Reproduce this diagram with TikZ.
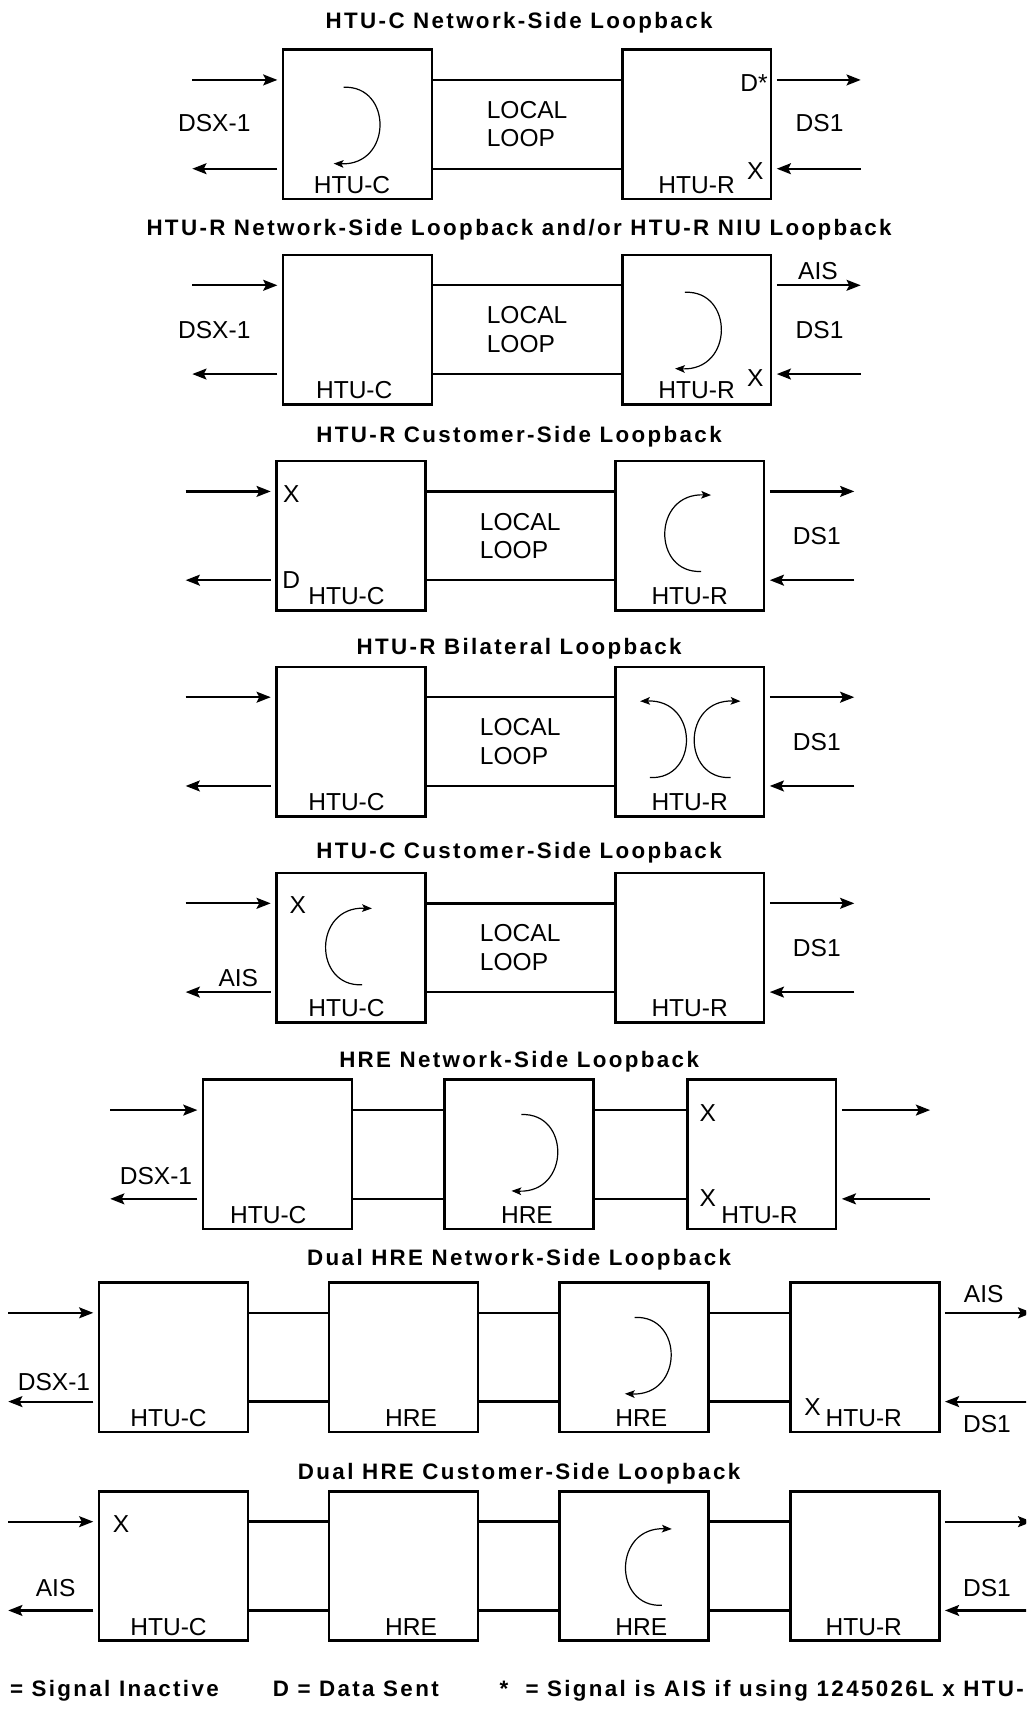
\documentclass[tikz,border=0pt]{standalone}
\usepackage{fontspec}
\setmainfont{Liberation Sans}
\newfontfamily\headfont{Liberation Sans}[LetterSpace=10.5]
\usetikzlibrary{arrows.meta,calc}

\begin{document}
\begin{tikzpicture}[x=1pt,y=1pt]
    % --- MANUAL CONFIGURATION ---
    % 1. Offset of the line pairs from the box top and bottom
    \def\Gap{29pt}
    % 2. Space left between an arrow and a box
    \def\Clear{4pt}

    % --- STYLES ---
    \tikzset{
        unitBox/.style={draw, line width=2.4pt, minimum width=136.5pt, minimum height=137pt, inner sep=0pt},
        wireLine/.style={line width=2.2pt},
        sigArrow/.style={-{Stealth[length=13pt,width=10pt,inset=2.5pt]}, line width=2pt},
        loopLine/.style={-{Stealth[length=9pt,width=7pt,inset=2pt]}, line width=1.1pt},
        boxText/.style={inner sep=0pt, font=\fontsize{22.5}{26}\selectfont},
        headText/.style={inner sep=0pt, anchor=base, font=\headfont\bfseries\fontsize{20.5}{24}\selectfont},
        loopArc/.pic={\draw[loopLine] (10,-34) .. controls (-35,-36) and (-35,38) .. (19,36);}
    }

    % line pair between two neighbouring boxes
    \def\wires#1#2{%
        \draw[wireLine] ([yshift=-\Gap]#1.north east) -- ([yshift=-\Gap]#2.north west);
        \draw[wireLine] ([yshift=\Gap]#1.south east) -- ([yshift=\Gap]#2.south west);}
    % arrows on the left of a box: in at the top, out at the bottom
    \def\leftArrows#1#2{%
        \coordinate (#1in) at ($(#1.north west)+(-#2,-\Gap)$);
        \coordinate (#1out) at ($(#1.south west)+(-#2,\Gap)$);
        \draw[sigArrow, shorten >=\Clear] (#1in) -- ([yshift=-\Gap]#1.north west);
        \draw[sigArrow, shorten <=\Clear] ([yshift=\Gap]#1.south west) -- (#1out);}
    % arrows on the right of a box: out at the top, in at the bottom
    \def\rightArrows#1#2{%
        \coordinate (#1out) at ($(#1.north east)+(#2,-\Gap)$);
        \coordinate (#1in) at ($(#1.south east)+(#2,\Gap)$);
        \draw[sigArrow, shorten <=\Clear] ([yshift=-\Gap]#1.north east) -- (#1out);
        \draw[sigArrow, shorten >=\Clear] (#1in) -- ([yshift=\Gap]#1.south east);}

    \useasboundingbox (0,0) rectangle (941,-1568);
    \clip (0,0) rectangle (941,-1568);

    % --- 1. HTU-C NETWORK-SIDE ---
    \node[headText] (t1) at (476,-26) {HTU-C Network-Side Loopback};
    \node[unitBox] (c1) at (327.8,-114) {};
    \node[unitBox] (r1) at (638.8,-114) {};
    \wires{c1}{r1}
    \leftArrows{c1}{82}
    \rightArrows{r1}{81}
    \node[boxText] (c1t) at ([xshift=-5pt,yshift=14pt]c1.south) {HTU-C};
    \node[boxText] (r1t) at ([yshift=14pt]r1.south) {HTU-R};
    \node[boxText, align=left] (ll1) at (483.3,-114) {LOCAL\\LOOP};
    \node[boxText] (dsx1) at (196.5,-113) {DSX-1};
    \node[boxText] (ds1) at (751.5,-113) {DS1};
    \node[boxText] (d1) at (691.5,-76) {D*};
    \node[boxText] (x1) at (692.5,-157) {X};
    \pic[rotate=180] at (325,-114) {loopArc};

    % --- 2. HTU-R NETWORK-SIDE / NIU ---
    \node[headText] (t2) at (476,-215.6) {HTU-R Network-Side Loopback and/or HTU-R NIU Loopback};
    \node[unitBox] (c2) at (327.8,-302.3) {};
    \node[unitBox] (r2) at (638.8,-302.3) {};
    \wires{c2}{r2}
    \leftArrows{c2}{82}
    \rightArrows{r2}{81}
    \node[boxText] (c2t) at ([xshift=-3pt,yshift=14pt]c2.south) {HTU-C};
    \node[boxText] (r2t) at ([yshift=14pt]r2.south) {HTU-R};
    \node[boxText, align=left] (ll2) at (483.3,-302.3) {LOCAL\\LOOP};
    \node[boxText] (dsx2) at (196.5,-302.5) {DSX-1};
    \node[boxText] (ds2) at (751.5,-302.5) {DS1};
    \node[boxText] (ais2) at (750,-249) {AIS};
    \node[boxText] (x2) at (692.5,-347) {X};
    \pic[rotate=180] at (638,-302) {loopArc};

    % --- 3. HTU-R CUSTOMER-SIDE ---
    \node[headText] (t3) at (476,-406) {HTU-R Customer-Side Loopback};
    \node[unitBox] (c3) at (321.7,-491.3) {};
    \node[unitBox] (r3) at (632.4,-491.3) {};
    \wires{c3}{r3}
    \leftArrows{c3}{82}
    \rightArrows{r3}{81.5}
    \node[boxText] (c3t) at ([xshift=-4pt,yshift=14pt]c3.south) {HTU-C};
    \node[boxText] (r3t) at ([yshift=14pt]r3.south) {HTU-R};
    \node[boxText, align=left] (ll3) at (477,-491.3) {LOCAL\\LOOP};
    \node[boxText] (ds3) at (749,-491.3) {DS1};
    \node[boxText] (x3) at (267,-453) {X};
    \node[boxText] (d3) at (267,-532) {D};
    \pic at (633,-490) {loopArc};

    % --- 4. HTU-R BILATERAL ---
    \node[headText] (t4) at (476,-600) {HTU-R Bilateral Loopback};
    \node[unitBox] (c4) at (321.7,-680) {};
    \node[unitBox] (r4) at (632.4,-680) {};
    \wires{c4}{r4}
    \leftArrows{c4}{82}
    \rightArrows{r4}{81.5}
    \node[boxText] (c4t) at ([xshift=-4pt,yshift=14pt]c4.south) {HTU-C};
    \node[boxText] (r4t) at ([yshift=14pt]r4.south) {HTU-R};
    \node[boxText, align=left] (ll4) at (477,-680) {LOCAL\\LOOP};
    \node[boxText] (ds4) at (749,-680) {DS1};
    \pic at (660,-679) {loopArc};
    \pic[xscale=-1] at (606,-679) {loopArc};

    % --- 5. HTU-C CUSTOMER-SIDE ---
    \node[headText] (t5) at (476,-787) {HTU-C Customer-Side Loopback};
    \node[unitBox] (c5) at (321.7,-869) {};
    \node[unitBox] (r5) at (632.4,-869) {};
    \wires{c5}{r5}
    \leftArrows{c5}{82}
    \rightArrows{r5}{81.5}
    \node[boxText] (c5t) at ([xshift=-4pt,yshift=14pt]c5.south) {HTU-C};
    \node[boxText] (r5t) at ([yshift=14pt]r5.south) {HTU-R};
    \node[boxText, align=left] (ll5) at (477,-869) {LOCAL\\LOOP};
    \node[boxText] (ds5) at (749,-869) {DS1};
    \node[boxText] (x5) at (273,-829.5) {X};
    \node[boxText] (ais5) at (218.5,-896.5) {AIS};
    \pic at (322,-869) {loopArc};

    % --- 6. HRE NETWORK-SIDE ---
    \node[headText] (t6) at (476,-979) {HRE Network-Side Loopback};
    \node[unitBox] (c6) at (254.5,-1058.6) {};
    \node[unitBox] (h6) at (475.7,-1058.6) {};
    \node[unitBox] (r6) at (698.4,-1058.6) {};
    \wires{c6}{h6}
    \wires{h6}{r6}
    \leftArrows{c6}{84}
    \rightArrows{r6}{85}
    \node[boxText] (c6t) at ([xshift=-8.5pt,yshift=14pt]c6.south) {HTU-C};
    \node[boxText] (h6t) at ([xshift=7.5pt,yshift=14pt]h6.south) {HRE};
    \node[boxText] (r6t) at ([xshift=-2pt,yshift=14pt]r6.south) {HTU-R};
    \node[boxText] (dsx6) at (143,-1078) {DSX-1};
    \node[boxText] (x6a) at (649,-1021) {X};
    \node[boxText] (x6b) at (649,-1099) {X};
    \pic[rotate=180] at (488,-1056) {loopArc};

    % --- 7. DUAL HRE NETWORK-SIDE ---
    \node[headText] (t7) at (476,-1160) {Dual HRE Network-Side Loopback};
    \node[unitBox] (c7) at (159,-1244.5) {};
    \node[unitBox] (h7) at (370,-1244.5) {};
    \node[unitBox] (g7) at (581.5,-1244.5) {};
    \node[unitBox] (r7) at (793,-1244.5) {};
    \wires{c7}{h7}
    \wires{h7}{g7}
    \wires{g7}{r7}
    \leftArrows{c7}{82}
    \rightArrows{r7}{84}
    \node[boxText] (c7t) at ([xshift=-4.5pt,yshift=14pt]c7.south) {HTU-C};
    \node[boxText] (h7t) at ([xshift=7pt,yshift=14pt]h7.south) {HRE};
    \node[boxText] (g7t) at ([xshift=6.5pt,yshift=14pt]g7.south) {HRE};
    \node[boxText] (r7t) at ([xshift=-1pt,yshift=14pt]r7.south) {HTU-R};
    \node[boxText] (dsx7) at (49.5,-1267) {DSX-1};
    \node[boxText] (ais7) at (902,-1187) {AIS};
    \node[boxText] (ds7) at (905,-1305.5) {DS1};
    \node[boxText] (x7) at (745,-1290) {X};
    \pic[rotate=180] at (592,-1242) {loopArc};

    % --- 8. DUAL HRE CUSTOMER-SIDE ---
    \node[headText] (t8) at (476,-1357) {Dual HRE Customer-Side Loopback};
    \node[unitBox] (c8) at (159,-1436) {};
    \node[unitBox] (h8) at (370,-1436) {};
    \node[unitBox] (g8) at (581.5,-1436) {};
    \node[unitBox] (r8) at (793,-1436) {};
    \wires{c8}{h8}
    \wires{h8}{g8}
    \wires{g8}{r8}
    \leftArrows{c8}{82}
    \rightArrows{r8}{84}
    \node[boxText] (c8t) at ([xshift=-4.5pt,yshift=14pt]c8.south) {HTU-C};
    \node[boxText] (h8t) at ([xshift=7pt,yshift=14pt]h8.south) {HRE};
    \node[boxText] (g8t) at ([xshift=6.5pt,yshift=14pt]g8.south) {HRE};
    \node[boxText] (r8t) at ([xshift=-1pt,yshift=14pt]r8.south) {HTU-R};
    \node[boxText] (x8) at (111,-1397.5) {X};
    \node[boxText] (ais8) at (51,-1456) {AIS};
    \node[boxText] (ds8) at (905,-1456) {DS1};
    \pic at (597,-1438) {loopArc};

    % --- KEY ---
    \node[headText, anchor=base west] (k1) at (9,-1556) {= Signal Inactive};
    \node[headText, anchor=base west] (k2) at (250,-1556) {D = Data Sent};
    \node[headText, anchor=base west] (k3) at (458,-1556) {*\ \ = Signal is AIS if using 1245026L x HTU-};
\end{tikzpicture}
\end{document}
